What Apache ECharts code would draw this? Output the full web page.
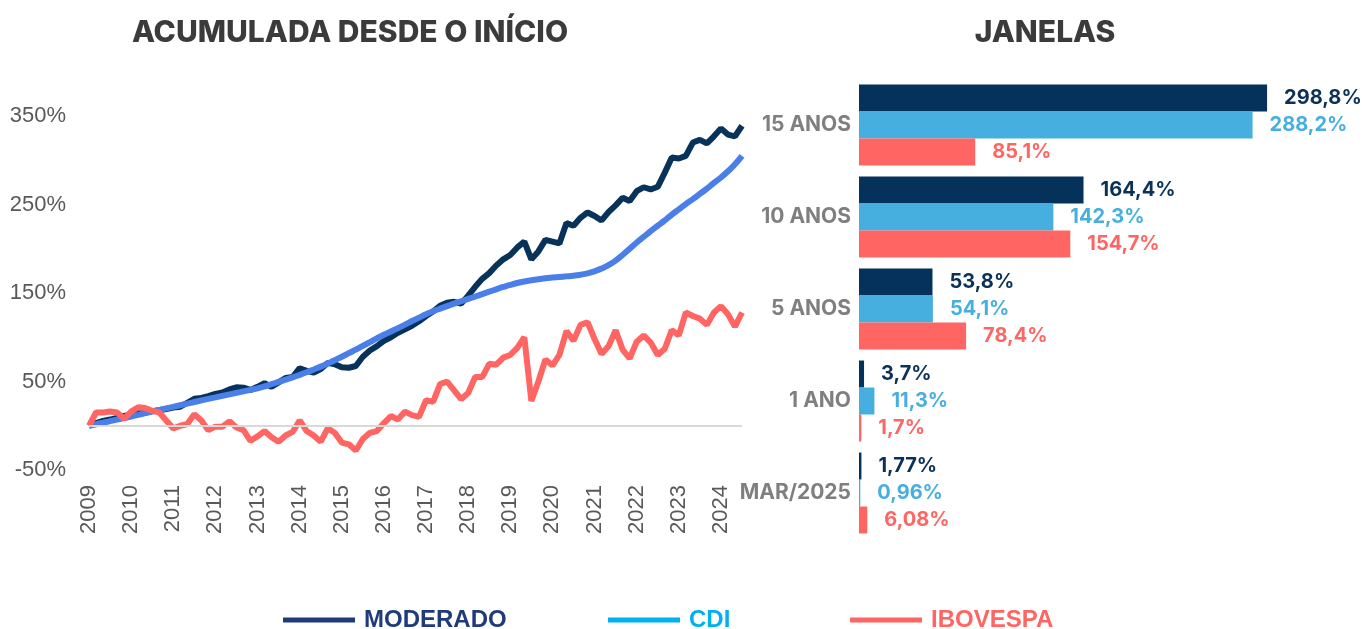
<!DOCTYPE html>
<html lang="pt">
<head>
<meta charset="UTF-8">
<title>Rentabilidade</title>
<script src="https://cdn.jsdelivr.net/npm/echarts@6/dist/echarts.min.js"></script>
<style>
  html, body { margin: 0; padding: 0; background: #fff; }
  #main { width: 1362px; height: 629px; }
</style>
</head>
<body>
<div id="main"></div>
<script>
// acumulada desde o inicio - pontos bimestrais a partir de 2009
var startYear = 2009;
var moderado = [0, 3, 5.5, 7, 9, 11, 12.5, 14, 14.5, 16.5, 17.5, 19, 20.5, 21.5, 26, 30.5,
  31.5, 33.5, 36, 37.5, 41, 43.5, 43, 40.5, 44, 48, 44, 49, 54, 55, 65, 62, 60, 64, 71, 69.5,
  66, 65.5, 67.5, 78, 85, 90, 96, 100, 105, 109, 113, 118, 124, 129, 135.6, 139, 140, 138,
  147, 157, 166, 172.5, 181, 188, 193, 201.5, 208, 188, 197, 210, 208, 206, 229, 226, 235,
  241, 237, 232, 241.5, 249, 257.6, 254, 265, 269.5, 267, 270, 286, 303, 302, 305, 320, 323,
  319, 327, 336, 329, 327, 339];
var cdi = [0, 1.7, 3.4, 5.2, 7, 8.7, 10.5, 12.3, 14.2, 16, 17.8, 19.6, 21.4, 23.2, 25, 26.8,
  28.6, 30.3, 32, 33.8, 35.5, 37.2, 38.9, 40.6, 42.3, 44.5, 47, 49.5, 52, 54.6, 57.5, 60.5,
  63.6, 66.8, 70.3, 74, 78, 82, 86, 90.3, 94.5, 98.8, 102.8, 106.5, 110.3, 114.3, 118.3,
  122.2, 126, 129.3, 132.3, 135.2, 138, 140.7, 143.3, 146, 148.8, 151.5, 154.2, 156.8, 159.2,
  161.3, 163, 164.4, 165.6, 166.6, 167.4, 168.1, 168.8, 169.6, 170.7, 172.2, 174.5, 177.6,
  181.6, 186.6, 193, 200, 207, 213.5, 220, 226, 232, 238.5, 244.5, 250.5, 256, 262, 268,
  274.5, 280.5, 287.6, 295.5, 305];
var ibovespa = [0, 15, 15, 16, 15, 8, 16, 21, 20, 17, 15, 6, -3, 0, 2, 13, 6, -5, -1, -1, 5,
  -2, -5, -17, -12, -6, -13, -18, -11, -7, 6, -6, -11, -18, -3, -8, -19, -21, -28, -15, -8,
  -6, 3, 11, 7, 16, 12, 10, 29, 27, 47, 50, 40, 30, 37, 55, 55, 70, 69, 77, 80, 88, 100, 28,
  50, 75, 68, 80, 107, 96, 114, 117, 98, 81, 90, 108, 86, 76, 95, 102, 94, 80, 87, 108, 102,
  128, 124, 121, 114, 128, 135, 126, 112, 128];

// janelas
var janelas = ['15 ANOS', '10 ANOS', '5 ANOS', '1 ANO', 'MAR/2025'];
var casas = [1, 1, 1, 1, 2];
var janModerado = [298.8, 164.4, 53.8, 3.7, 1.77];
var janCdi = [288.2, 142.3, 54.1, 11.3, 0.96];
var janIbovespa = [85.1, 154.7, 78.4, 1.7, 6.08];

var periodos = [];
for (var i = 0; i < moderado.length; i++) {
  var ano = startYear + Math.floor(i / 6);
  var mes = (i % 6) * 2 + 1;
  periodos.push(ano + '-' + (mes < 10 ? '0' + mes : mes));
}

var navy = '#07335a';
var azul = '#4a7fea';
var ciano = '#47afdf';
var coral = '#ff6562';

function fmt(p) {
  return p.value.toFixed(casas[p.dataIndex]).replace('.', ',') + '%';
}

var myChart = echarts.init(document.getElementById('main'));

function barLabel(cor) {
  return {
    show: true,
    position: 'right',
    distance: 17,
    color: cor,
    fontFamily: 'Inter',
    fontWeight: 'bold',
    fontSize: 20,
    formatter: fmt
  };
}

function legenda(nome, cor, left) {
  return {
    left: left,
    top: 603,
    icon: 'rect',
    itemWidth: 72,
    itemHeight: 5,
    selectedMode: false,
    data: [{ name: nome, itemStyle: { color: cor }, textStyle: { color: cor } }],
    textStyle: {
      fontFamily: '"Liberation Sans", Arial, sans-serif',
      fontWeight: 'bold',
      fontSize: 24,
      padding: [0, 0, 0, 4]
    }
  };
}

var option = {
  animation: false,
  backgroundColor: '#fff',
  title: [
    {
      text: 'ACUMULADA DESDE O INÍCIO',
      left: 345, top: 13, textAlign: 'center',
      textStyle: { fontFamily: 'Inter', fontWeight: 800, fontSize: 30, color: '#3b3b3b' }
    },
    {
      text: 'JANELAS',
      left: 1040, top: 13, textAlign: 'center',
      textStyle: { fontFamily: 'Inter', fontWeight: 800, fontSize: 30, color: '#3b3b3b' }
    }
  ],
  legend: [
    legenda('MODERADO', '#1f3b7c', 278),
    legenda('CDI', '#00b0f0', 603),
    legenda('IBOVESPA', coral, 845)
  ],
  grid: [
    { left: 89, right: 620, top: 116, bottom: 159 },
    { left: 859, right: 25, top: 79, bottom: 90 }
  ],
  xAxis: [
    {
      type: 'category',
      gridIndex: 0,
      data: periodos,
      boundaryGap: false,
      axisLine: { show: false },
      axisTick: { show: false },
      axisLabel: {
        rotate: 90,
        margin: 15,
        color: '#595959',
        fontFamily: '"Liberation Sans", Arial, sans-serif',
        fontSize: 22,
        interval: function (i) { return i % 6 === 0; },
        formatter: function (v) { return v.slice(0, 4); }
      },
      splitLine: { show: false }
    },
    {
      type: 'value',
      gridIndex: 1,
      min: 0,
      max: 350,
      show: false
    }
  ],
  yAxis: [
    {
      type: 'value',
      gridIndex: 0,
      min: -50,
      max: 350,
      interval: 100,
      axisLine: { show: false },
      axisTick: { show: false },
      splitLine: { show: false },
      axisLabel: {
        margin: 23,
        color: '#595959',
        fontFamily: '"Liberation Sans", Arial, sans-serif',
        fontSize: 22,
        formatter: '{value}%'
      }
    },
    {
      type: 'category',
      gridIndex: 1,
      data: janelas,
      inverse: true,
      axisLine: { show: false },
      axisTick: { show: false },
      axisLabel: {
        margin: 8,
        color: '#7f7f7f',
        fontFamily: 'Inter',
        fontWeight: 'bold',
        fontSize: 21
      }
    }
  ],
  series: [
    {
      name: 'MODERADO', type: 'line', xAxisIndex: 0, yAxisIndex: 0,
      data: moderado, showSymbol: false,
      lineStyle: { color: navy, width: 6 }, itemStyle: { color: navy },
      markLine: {
        silent: true, symbol: 'none', label: { show: false },
        lineStyle: { color: '#d9d9d9', width: 2, type: 'solid' },
        data: [{ yAxis: 0 }]
      }
    },
    {
      name: 'CDI', type: 'line', xAxisIndex: 0, yAxisIndex: 0,
      data: cdi, showSymbol: false, smooth: true,
      lineStyle: { color: azul, width: 6 }, itemStyle: { color: azul }
    },
    {
      name: 'IBOVESPA', type: 'line', xAxisIndex: 0, yAxisIndex: 0,
      data: ibovespa, showSymbol: false,
      lineStyle: { color: coral, width: 6 }, itemStyle: { color: coral }
    },
    {
      name: 'MODERADO', type: 'bar', xAxisIndex: 1, yAxisIndex: 1,
      data: janModerado, barGap: '0%', barCategoryGap: '12%',
      itemStyle: { color: '#04325a' }, label: barLabel('#0b3157')
    },
    {
      name: 'CDI', type: 'bar', xAxisIndex: 1, yAxisIndex: 1,
      data: janCdi, barGap: '0%', barCategoryGap: '12%',
      itemStyle: { color: ciano }, label: barLabel(ciano)
    },
    {
      name: 'IBOVESPA', type: 'bar', xAxisIndex: 1, yAxisIndex: 1,
      data: janIbovespa, barGap: '0%', barCategoryGap: '12%',
      itemStyle: { color: coral }, label: barLabel(coral)
    }
  ]
};

myChart.setOption(option);
</script>
</body>
</html>
